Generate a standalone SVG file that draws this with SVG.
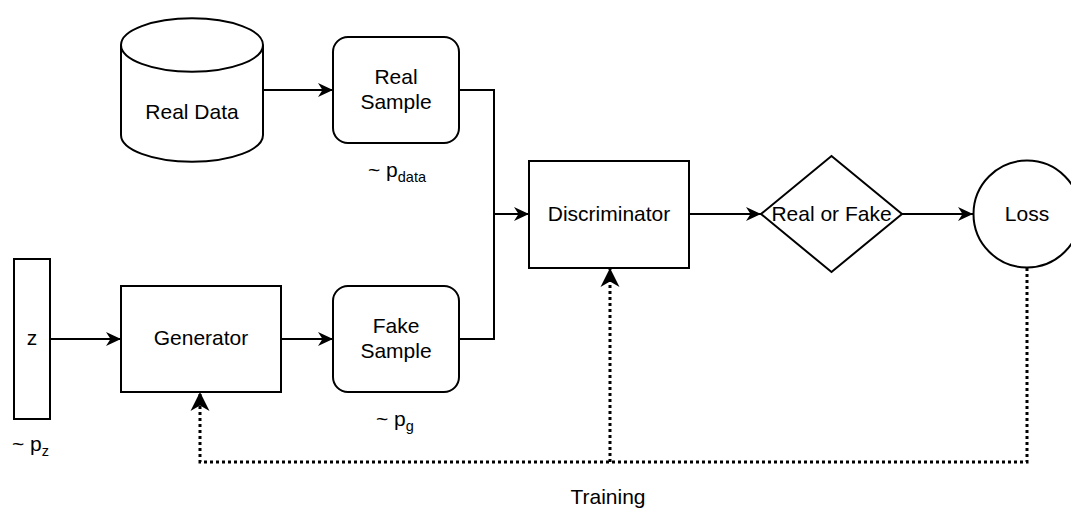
<svg xmlns="http://www.w3.org/2000/svg" width="1071" height="509" viewBox="0 0 1071 509">
<style>
.shape{fill:#fff;stroke:#000;stroke-width:2}
.line{fill:none;stroke:#000;stroke-width:2}
.dot{fill:none;stroke:#000;stroke-width:3;stroke-dasharray:3 3}
.t{font-family:"Liberation Sans",Arial,Helvetica,sans-serif;font-size:21px;fill:#000;text-anchor:middle}
.ts{font-family:"Liberation Sans",Arial,Helvetica,sans-serif;font-size:21px;fill:#000}
.sub{font-size:14.5px}
</style>
<defs>
<marker id="arr" markerUnits="userSpaceOnUse" markerWidth="16" markerHeight="16" refX="15" refY="8" orient="auto">
<path d="M15,8 L0,1 L4.5,8 L0,15 Z" fill="#000"/>
</marker>
<marker id="arrBig" markerUnits="userSpaceOnUse" markerWidth="20" markerHeight="20" refX="19" refY="10" orient="auto">
<path d="M19,10 L0,0.5 L5.5,10 L0,19.5 Z" fill="#000"/>
</marker>
</defs>
<rect width="1071" height="509" fill="#fff"/>

<g id="connectors">
<path class="line" d="M263,90 L333,90" marker-end="url(#arr)"/>
<path class="line" d="M459,90 L494,90 L494,214 L529,214" marker-end="url(#arr)"/>
<path class="line" d="M459,339 L494,339 L494,214"/>
<path class="line" d="M50,339 L121,339" marker-end="url(#arr)"/>
<path class="line" d="M281,339 L333,339" marker-end="url(#arr)"/>
<path class="line" d="M689,214 L761,214" marker-end="url(#arr)"/>
<path class="line" d="M902,214 L973,214" marker-end="url(#arr)"/>
<path class="dot" d="M1027,268 L1027,462 L200,462 L200,392" marker-end="url(#arrBig)"/>
<path class="dot" d="M610,462 L610,268" marker-end="url(#arrBig)"/>
</g>

<g id="real-data">
<path class="shape" d="M121,45 A71,26.7 0 0 1 263,45 L263,135 A71,26.7 0 0 1 121,135 Z"/>
<path class="line" d="M121,45 A71,26.7 0 0 0 263,45"/>
<text class="t" x="192" y="119">Real Data</text>
</g>

<g id="real-sample">
<rect class="shape" x="333" y="37" width="126" height="106" rx="15" ry="15"/>
<text class="t" x="396" y="84">Real</text>
<text class="t" x="396" y="109">Sample</text>
<text class="ts" x="368" y="177">~ p<tspan class="sub" dy="5">data</tspan></text>
</g>

<g id="z">
<rect class="shape" x="14" y="259" width="36" height="160"/>
<text class="t" x="32" y="345">z</text>
<text class="ts" x="12" y="451">~ p<tspan class="sub" dy="5">z</tspan></text>
</g>

<g id="generator">
<rect class="shape" x="121" y="286" width="160" height="106"/>
<text class="t" x="201" y="345">Generator</text>
</g>

<g id="fake-sample">
<rect class="shape" x="333" y="286" width="126" height="106" rx="15" ry="15"/>
<text class="t" x="396" y="333">Fake</text>
<text class="t" x="396" y="358">Sample</text>
<text class="ts" x="376" y="426">~ p<tspan class="sub" dy="5">g</tspan></text>
</g>

<g id="discriminator">
<rect class="shape" x="529" y="161" width="160" height="107"/>
<text class="t" x="609" y="221">Discriminator</text>
</g>

<g id="real-or-fake">
<path class="shape" d="M831.5,156 L902,214 L831.5,272 L761,214 Z"/>
<text class="t" x="831.5" y="221">Real or Fake</text>
</g>

<g id="loss">
<circle class="shape" cx="1027" cy="214" r="53.5"/>
<text class="t" x="1027" y="221">Loss</text>
</g>

<g id="training-label">
<text class="t" x="608" y="504">Training</text>
</g>
</svg>
